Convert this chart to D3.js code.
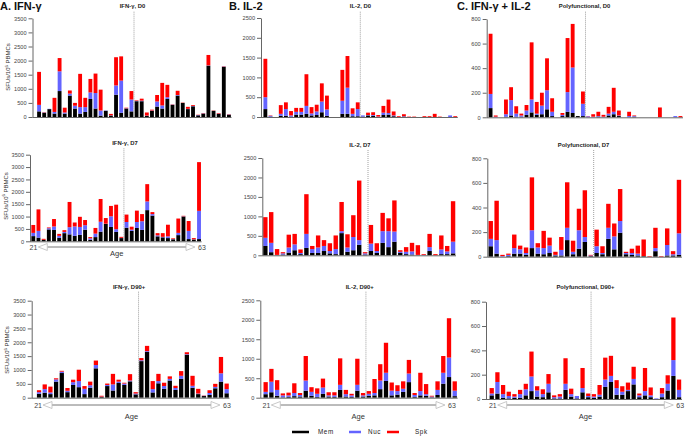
<!DOCTYPE html>
<html><head><meta charset="utf-8">
<script src="https://cdn.jsdelivr.net/npm/d3@7"></script>
<style>body{margin:0;background:#fff}svg{display:block;font-family:"Liberation Sans",Arial,sans-serif}</style>
</head><body><svg id="c" width="685" height="436"></svg>
<script>
// ---------- tick labels ----------
const ifnTicks=[0,500,1000,1500,2000,2500,3000,3500];
const il2Ticks=[0,500,1000,1500,2000,2500];
const polyTicks=[0,200,400,600,800];
const seriesKeys=["mem","nuc","spk"];
const seriesNames=["Mem","Nuc","Spk"];
const ageLabels=["21","63"];

// ---------- D0 (38 donors, ordered by age) ----------
const ifnD0Mem=[200,150,280,120,920,120,760,300,120,180,640,300,50,220,50,790,150,300,200,560,560,40,220,370,300,640,430,760,500,280,380,60,120,1820,220,110,1780,80];
const ifnD0Nuc=[230,10,10,60,700,40,70,100,230,170,230,550,180,10,10,330,1140,10,420,10,20,10,10,180,110,60,10,20,0,10,10,10,10,10,0,10,10,10];
const ifnD0Spk=[1170,10,0,500,470,170,110,100,1180,330,480,690,740,0,50,1000,860,20,300,20,70,110,30,230,800,440,10,150,10,70,30,10,10,370,10,20,10,10];
const il2D0Mem=[200,10,0,30,30,10,60,60,80,40,50,120,30,0,0,80,80,20,20,10,40,30,0,50,60,20,0,10,0,0,0,0,0,0,0,0,0,0];
const il2D0Nuc=[300,20,0,50,170,30,70,70,200,50,90,270,160,0,0,330,660,60,180,30,10,20,10,60,40,20,0,10,0,0,0,0,0,0,0,0,40,0];
const il2D0Spk=[970,10,0,220,170,110,100,100,800,160,170,460,350,0,0,780,800,140,170,0,60,70,40,170,340,100,20,50,10,10,0,20,20,80,10,0,0,20];
const polyD0Mem=[75,0,0,5,15,5,5,20,40,20,25,65,10,0,10,45,35,10,10,0,0,5,0,15,25,10,0,0,5,0,0,0,0,0,0,0,0,0];
const polyD0Nuc=[115,5,0,20,125,25,10,35,105,10,70,155,35,0,10,160,370,0,100,8,5,5,5,15,20,5,0,10,5,0,0,0,0,0,0,0,10,0];
const polyD0Spk=[490,10,0,120,105,60,15,45,465,95,105,260,110,0,15,440,355,0,100,2,20,35,15,55,195,40,0,35,5,0,0,0,0,80,0,0,0,10];

// ---------- D7 (33 donors) ----------
const ifnD7Mem=[210,150,60,480,460,140,330,280,220,260,470,60,170,390,700,580,380,130,550,420,540,460,1260,1040,200,160,130,80,250,1000,90,70,90];
const ifnD7Nuc=[130,270,0,50,140,80,50,290,380,320,180,60,140,400,10,430,110,10,230,50,240,350,350,60,40,20,70,10,90,10,330,10,1140];
const ifnD7Spk=[320,870,40,30,300,80,70,1020,160,410,210,50,230,920,230,420,990,40,300,120,460,290,700,80,90,150,470,30,580,20,400,50,1970];
const il2D7Mem=[240,80,5,20,70,130,30,190,60,60,110,50,30,570,90,130,270,20,110,60,320,210,350,60,30,20,5,0,110,0,30,30,50];
const il2D7Nuc=[210,240,5,30,130,150,30,360,100,140,130,60,130,50,110,340,120,30,190,50,300,410,260,30,60,80,5,10,100,0,120,70,300];
const il2D7Spk=[530,790,150,30,330,270,90,1020,80,310,150,200,350,750,340,560,1530,30,480,200,470,330,800,40,120,220,250,20,340,30,360,140,1040];
const polyD7Mem=[85,25,0,5,25,25,15,70,25,20,30,10,10,135,20,65,120,5,30,20,145,60,195,20,15,10,5,0,45,0,10,10,15];
const polyD7Nuc=[60,110,5,10,45,35,15,145,50,50,60,5,45,100,20,150,40,5,55,10,90,105,95,10,15,15,0,0,25,0,85,10,175];
const polyD7Spk=[145,320,10,10,110,30,45,430,35,140,65,25,105,370,90,175,380,5,135,55,195,105,260,10,35,65,135,5,165,5,135,25,435];

// ---------- D90+ (34 donors) ----------
const ifnD90Mem=[140,180,130,580,890,200,460,380,130,360,1060,30,420,260,530,460,590,120,1320,1650,190,520,320,620,280,680,1550,360,130,60,100,340,580,160];
const ifnD90Nuc=[60,130,60,80,50,50,100,220,190,90,120,10,40,220,50,50,30,30,30,30,120,80,100,60,70,110,20,70,20,10,70,50,300,150];
const ifnD90Spk=[70,170,210,40,30,100,90,410,100,130,160,30,50,380,70,30,230,50,80,190,290,260,120,90,80,170,70,360,170,10,100,110,590,200];
const il2D90Mem=[90,140,50,10,20,40,30,180,50,20,100,30,20,200,30,20,180,30,50,60,220,430,60,80,150,400,20,60,50,10,70,360,530,40];
const il2D90Nuc=[60,270,150,50,40,80,40,260,100,80,160,30,40,130,60,40,150,30,50,60,220,210,120,90,80,220,50,110,40,20,130,280,500,140];
const il2D90Spk=[250,330,250,50,70,250,50,630,120,140,230,80,80,680,110,40,670,60,70,360,420,770,210,150,190,350,50,470,260,20,220,430,1010,240];
const polyD90Mem=[30,45,10,5,10,10,30,65,20,15,55,5,5,75,20,5,55,15,10,20,100,140,35,35,65,120,15,30,15,0,15,70,190,15];
const polyD90Nuc=[15,95,30,20,10,30,50,120,50,25,70,10,15,50,20,20,35,10,10,15,60,50,55,25,10,45,15,35,15,5,30,55,130,60];
const polyD90Spk=[45,80,75,35,20,35,45,205,35,40,80,15,20,210,45,0,165,20,20,80,180,165,65,45,60,100,15,190,65,0,45,70,350,85];

// ---------- layout (positions only) ----------
const panels=[
 {mem:ifnD0Mem,nuc:ifnD0Nuc,spk:ifnD0Spk,ticks:ifnTicks,sub:"IFN-γ, D0",split:19,r:[36.5,231.5],ax:32.5,y0:117,yT:18.3,subX:132.5,subY:7.8,dashTop:11.7,ylab:[8,67]},
 {mem:il2D0Mem,nuc:il2D0Nuc,spk:il2D0Spk,ticks:il2Ticks,sub:"IL-2, D0",split:19,r:[262.8,457.8],ax:261,y0:117,yT:18,subX:360.5,subY:7.8,dashTop:11.7},
 {mem:polyD0Mem,nuc:polyD0Nuc,spk:polyD0Spk,ticks:polyTicks,sub:"Polyfunctional, D0",split:19,r:[488,683],ax:486.7,y0:117.3,yT:19,subX:584.5,subY:7.8,dashTop:11.7},
 {mem:ifnD7Mem,nuc:ifnD7Nuc,spk:ifnD7Spk,ticks:ifnTicks,sub:"IFN-γ, D7",split:18,r:[30.7,201.6],ax:30,y0:241.3,yT:154.7,subX:125,subY:144.8,dashTop:148.3,ylab:[5.5,196],
  arrow:{x0:38.3,x1:195,y:247,ageY:255.5}},
 {mem:il2D7Mem,nuc:il2D7Nuc,spk:il2D7Spk,ticks:il2Ticks,sub:"IL-2, D7",split:18,r:[262.4,456],ax:262.3,y0:255.3,yT:158,subX:360,subY:146.5,dashTop:150},
 {mem:polyD7Mem,nuc:polyD7Nuc,spk:polyD7Spk,ticks:polyTicks,sub:"Polyfunctional, D7",split:18,r:[487.8,681.9],ax:487.3,y0:256.7,yT:158.3,subX:583.5,subY:146.5,dashTop:150},
 {mem:ifnD90Mem,nuc:ifnD90Nuc,spk:ifnD90Spk,ticks:ifnTicks,sub:"IFN-γ, D90+",split:18,r:[36.2,229.5],ax:31.7,y0:397.7,yT:300.7,subX:129,subY:288.8,dashTop:291.7,ylab:[7,350],
  arrow:{x0:43,x1:220,y:405,ageY:418.5}},
 {mem:il2D90Mem,nuc:il2D90Nuc,spk:il2D90Spk,ticks:il2Ticks,sub:"IL-2, D90+",split:18,r:[262.8,457.6],ax:260.3,y0:397.7,yT:300.3,subX:359.7,subY:288.8,dashTop:291.7,
  arrow:{x0:271.3,x1:445,y:405,ageY:418.5}},
 {mem:polyD90Mem,nuc:polyD90Nuc,spk:polyD90Spk,ticks:polyTicks,sub:"Polyfunctional, D90+",split:18,r:[488.9,681.9],ax:486,y0:399,yT:301.7,subX:585.5,subY:288.8,dashTop:291.7,
  arrow:{x0:497.7,x1:673.3,y:405,ageY:418.5}}
];
const colors={mem:"#000000",nuc:"#6464ff",spk:"#ff0000"};
const titles=[{t:"A. IFN-γ",x:0},{t:"B. IL-2",x:229},{t:"C. IFN-γ + IL-2",x:457}];

const svg=d3.select("#c");

titles.forEach(d=>svg.append("text").attr("x",d.x).attr("y",10).attr("font-size",11).attr("font-weight","bold").attr("fill","#111").text(d.t));

const stack=d3.stack().keys(seriesKeys);

panels.forEach(p=>{
  const n=p.mem.length;
  const cats=d3.range(n);
  const rows=cats.map(i=>({i,mem:p.mem[i],nuc:p.nuc[i],spk:p.spk[i]}));
  const x=d3.scaleBand().domain(cats).range(p.r).paddingInner(0.25).paddingOuter(0.125);
  const y=d3.scaleLinear().domain([0,d3.max(p.ticks)]).range([p.y0,p.yT]);
  const g=svg.append("g");

  // bars
  stack(rows).forEach(layer=>{
    g.append("g").attr("fill",colors[layer.key]).selectAll("rect").data(layer).join("rect")
      .attr("x",d=>x(d.data.i)).attr("width",x.bandwidth())
      .attr("y",d=>y(d[1])).attr("height",d=>Math.max(0,y(d[0])-y(d[1])));
  });

  // y axis
  const ax=g.append("g").attr("transform",`translate(${p.ax},0)`)
    .call(d3.axisLeft(y).tickValues(p.ticks).tickFormat(d3.format("d")).tickSize(4).tickSizeOuter(0).tickPadding(2));
  ax.select(".domain").attr("stroke","#666").attr("stroke-width",1);
  ax.selectAll(".tick line").attr("stroke","#666");
  ax.selectAll(".tick text").attr("font-size",5.6).attr("fill","#444").attr("font-family","Liberation Sans, Arial, sans-serif");

  // baseline
  g.append("line").attr("x1",p.ax).attr("x2",p.r[1]).attr("y1",p.y0+0.5).attr("y2",p.y0+0.5).attr("stroke","#666").attr("stroke-width",1);

  // dashed separator
  const dx=(x(cats[p.split-1])+x.bandwidth()+x(cats[p.split]))/2;
  g.append("line").attr("x1",dx).attr("x2",dx).attr("y1",p.dashTop).attr("y2",p.y0)
    .attr("stroke","#888").attr("stroke-width",0.8).attr("stroke-dasharray","1,1");

  // subtitle
  g.append("text").attr("x",p.subX).attr("y",p.subY).attr("text-anchor","middle").attr("font-size",5.9).attr("font-weight","bold").attr("fill","#222").text(p.sub);

  // y label
  if(p.ylab){
    const t=g.append("text").attr("transform",`translate(${p.ylab[0]+2},${p.ylab[1]}) rotate(-90)`).attr("text-anchor","middle").attr("font-size",6).attr("fill","#333");
    t.append("tspan").text("SFUs/10");
    t.append("tspan").attr("font-size",4.2).attr("dy",-2.2).text("6");
    t.append("tspan").attr("dy",2.2).text(" PBMCs");
  }

  // age arrow
  if(p.arrow){
    const a=p.arrow, L=9, H=3.5;
    g.append("line").attr("x1",a.x0+L).attr("x2",a.x1-L).attr("y1",a.y).attr("y2",a.y).attr("stroke","#555").attr("stroke-width",0.8);
    g.append("path").attr("d",`M${a.x0},${a.y}L${a.x0+L},${a.y-H}L${a.x0+L},${a.y+H}Z`).attr("fill","#fff").attr("stroke","#bbb").attr("stroke-width",0.8);
    g.append("path").attr("d",`M${a.x1},${a.y}L${a.x1-L},${a.y-H}L${a.x1-L},${a.y+H}Z`).attr("fill","#fff").attr("stroke","#bbb").attr("stroke-width",0.8);
    g.append("text").attr("x",a.x0-1).attr("y",a.y+2.5).attr("text-anchor","end").attr("font-size",7).attr("fill","#444").text(ageLabels[0]);
    g.append("text").attr("x",a.x1+3).attr("y",a.y+2.5).attr("font-size",7).attr("fill","#444").text(ageLabels[1]);
    g.append("text").attr("x",(a.x0+a.x1)/2).attr("y",a.ageY).attr("text-anchor","middle").attr("font-size",7.5).attr("fill","#333").text("Age");
  }
});

// legend
const legend=[{x1:292,x2:309,tx:318},{x1:349,x2:361,tx:368},{x1:387,x2:399,tx:415}];
legend.forEach((l,i)=>{
  svg.append("line").attr("x1",l.x1).attr("x2",l.x2).attr("y1",432).attr("y2",432).attr("stroke",colors[seriesKeys[i]]).attr("stroke-width",2.5);
  svg.append("text").attr("x",l.tx).attr("y",434.3).attr("font-size",6.3).attr("fill","#222").attr("letter-spacing",0.6).text(seriesNames[i]);
});
</script></body></html>
